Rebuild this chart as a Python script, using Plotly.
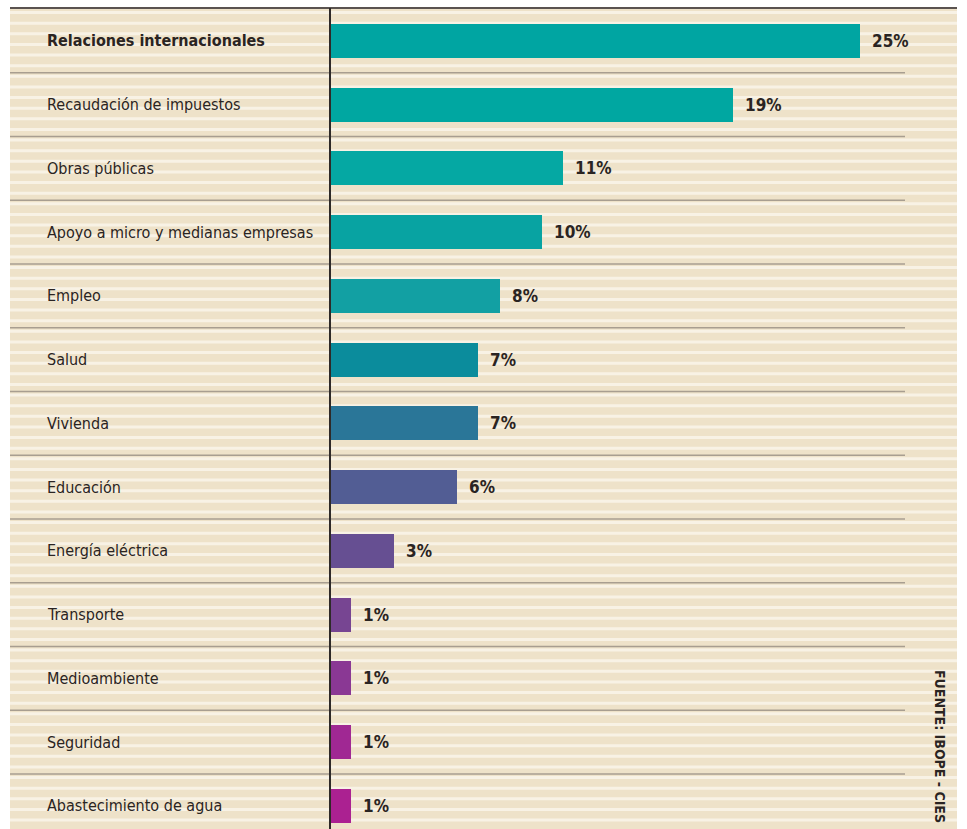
import plotly.graph_objects as go

categories = [
    "Relaciones internacionales",
    "Recaudación de impuestos",
    "Obras públicas",
    "Apoyo a micro y medianas empresas",
    "Empleo",
    "Salud",
    "Vivienda",
    "Educación",
    "Energía eléctrica",
    "Transporte",
    "Medioambiente",
    "Seguridad",
    "Abastecimiento de agua",
]
values = [25, 19, 11, 10, 8, 7, 7, 6, 3, 1, 1, 1, 1]
value_labels = ["25%", "19%", "11%", "10%", "8%", "7%", "7%", "6%", "3%", "1%", "1%", "1%", "1%"]
bar_colors = [
    "#00a5a2", "#00a7a1", "#05a8a3", "#08a3a2", "#12a0a3", "#0b8c9c",
    "#2a7698", "#525d94", "#664f92", "#774592", "#8a3894", "#a02893", "#ab2191",
]
source = "FUENTE: IBOPE - CIES"

W, H = 967, 829
ML, MR, MT, MB = 330, 10, 9, 0
PW, PH = W - ML - MR, H - MT - MB
ROW = 63.75
PX_PER_UNIT = 21.2

def px_x(px):
    return (px - ML) / PW

def px_y(py):
    return (H - MB - py) / PH

n = len(categories)
ypos = list(range(n))
FONT = "Liberation Sans Narrow, DejaVu Sans Condensed, Arial Narrow, sans-serif"

fig = go.Figure()
fig.add_trace(go.Bar(
    x=values, y=ypos, orientation="h",
    marker=dict(color=bar_colors, line=dict(width=0)),
    width=0.53, hoverinfo="skip", showlegend=False,
))

shapes = []
# beige background
shapes.append(dict(type="rect", xref="paper", yref="paper", layer="below",
                   x0=px_x(10), x1=px_x(957), y0=px_y(829), y1=px_y(8),
                   fillcolor="#eee2c9", line=dict(width=0)))
# light stripes
period = ROW / 6
k = 0
while True:
    top = 8 + 3 + k * period
    if top > 829:
        break
    shapes.append(dict(type="rect", xref="paper", yref="paper", layer="below",
                       x0=px_x(10), x1=px_x(957), y0=px_y(top + 3.0), y1=px_y(top),
                       fillcolor="#f8f2e5", line=dict(width=0)))
    k += 1
# row separators
for i in range(n - 1):
    py = MT + ROW * (i + 1)
    shapes.append(dict(type="line", xref="paper", yref="paper", layer="below",
                       x0=px_x(10), x1=px_x(905), y0=px_y(py), y1=px_y(py),
                       line=dict(color="#a89e90", width=1.5)))
# top border
shapes.append(dict(type="line", xref="paper", yref="paper",
                   x0=px_x(10), x1=px_x(957), y0=px_y(8), y1=px_y(8),
                   line=dict(color="#5a5350", width=2)))
# vertical axis line
shapes.append(dict(type="line", xref="paper", yref="paper",
                   x0=px_x(330), x1=px_x(330), y0=px_y(829), y1=px_y(8),
                   line=dict(color="#2e2a28", width=2)))

annotations = []
for i, (c, v, lab) in enumerate(zip(categories, values, value_labels)):
    annotations.append(dict(
        x=px_x(45), xref="paper", y=i, yref="y", text=(f"<b>{c}</b>" if i == 0 else c),
        showarrow=False, xanchor="left", yanchor="middle",
        font=dict(family=FONT, size=16, color="#2a2422"),
    ))
    annotations.append(dict(
        x=v, xref="x", y=i, yref="y", text=f"<b>{lab}</b>",
        showarrow=False, xanchor="left", yanchor="middle", xshift=10,
        font=dict(family=FONT, size=17, color="#2a2422"),
    ))
annotations.append(dict(
    x=px_x(940), xref="paper", y=px_y(746), yref="paper", text=f"<b>{source}</b>",
    showarrow=False, textangle=90, xanchor="center", yanchor="middle",
    font=dict(family=FONT, size=14, color="#2a2422"),
))

fig.update_layout(
    width=W, height=H,
    margin=dict(l=ML, r=MR, t=MT, b=MB, pad=0),
    paper_bgcolor="white", plot_bgcolor="rgba(0,0,0,0)",
    xaxis=dict(range=[0, PW / PX_PER_UNIT], visible=False, fixedrange=True),
    yaxis=dict(range=[(PH / ROW) - 0.5, -0.5], visible=False, fixedrange=True),
    shapes=shapes, annotations=annotations, bargap=0,
)
fig.write_html("out.html")
